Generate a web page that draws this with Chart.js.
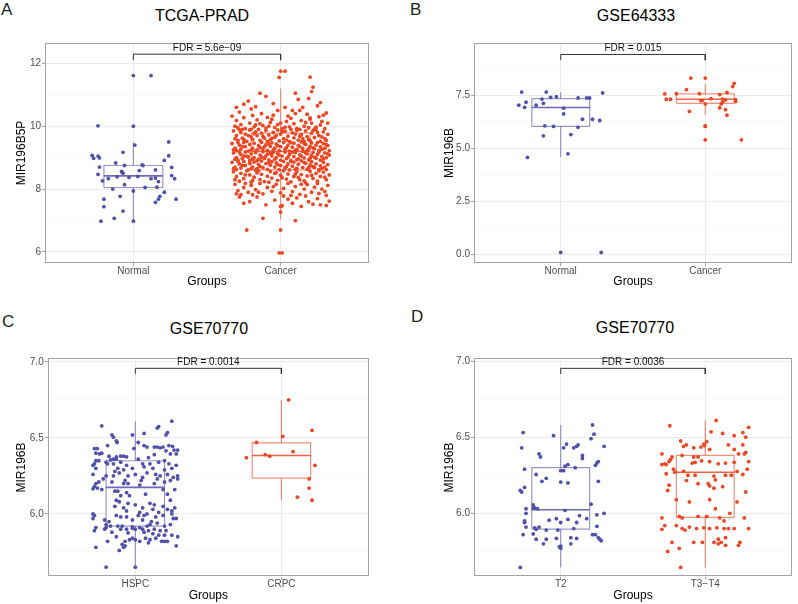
<!DOCTYPE html>
<html><head><meta charset="utf-8">
<script src="https://cdn.jsdelivr.net/npm/chart.js@4"></script>
<style>
body{margin:0;background:#fff;width:798px;height:604px;position:relative;overflow:hidden;font-family:'Liberation Sans',Arial,sans-serif}
canvas{position:absolute}
.ttl{position:absolute;font-size:16px;color:#000;transform:translate(-50%,-50%);white-space:nowrap}
.lt{position:absolute;font-size:17px;color:#222;transform:translateY(-50%)}
</style></head><body>
<div class="lt" style="left:1px;top:10px">A</div>
<div class="lt" style="left:410px;top:10px">B</div>
<div class="lt" style="left:2px;top:322px">C</div>
<div class="lt" style="left:411px;top:317px">D</div>
<div class="ttl" id="tA" style="left:202px;top:16px"></div>
<div class="ttl" id="tB" style="left:636px;top:16px"></div>
<div class="ttl" id="tC" style="left:209px;top:329px"></div>
<div class="ttl" id="tD" style="left:635px;top:328px"></div>
<canvas id="cA" width="399" height="302" style="left:0;top:0"></canvas>
<canvas id="cB" width="399" height="302" style="left:399px;top:0"></canvas>
<canvas id="cC" width="399" height="302" style="left:0;top:302px"></canvas>
<canvas id="cD" width="399" height="302" style="left:399px;top:302px"></canvas>
<script>
// ---------- DATA ----------
const titles = ['TCGA-PRAD','GSE64333','GSE70770','GSE70770'];
const yTitles = ['MIR196B5P','MIR196B','MIR196B','MIR196B'];
const groupsA = ['Normal','Cancer'];
const groupsB = ['Normal','Cancer'];
const groupsC = ['HSPC','CRPC'];
const groupsD = ['T2','T3\u2212T4'];
const fdrLabels = ['FDR = 5.6e\u221209','FDR = 0.015','FDR = 0.0014','FDR = 0.0036'];
const bracketA = [12.1, 12.29];
const bracketB = [9.14, 9.41];
const bracketC = [6.921, 6.958];
const bracketD = [6.915, 6.952];
const yRangeA = [5.65, 12.645];
const yRangeB = [-0.41, 9.95];
const yRangeC = [5.587, 7.024];
const yRangeD = [5.584, 7.018];
const yTicksA = [6,7,8,9,10,11,12];
const yLabelsA = ['6','','8','','10','','12'];
const yTicksB = [0,1.25,2.5,3.75,5,6.25,7.5,8.75];
const yLabelsB = ['0.0','','2.5','','5.0','','7.5',''];
const yTicksC = [5.75,6,6.25,6.5,6.75,7];
const yLabelsC = ['','6.0','','6.5','','7.0'];
const yTicksD = yTicksC;
const yLabelsD = yLabelsC;
// box stats: [lower whisker, Q1, median, Q3, upper whisker]
const statsA = [[7.0,8.05,8.42,8.75,9.49],[7.03,8.61,9.2,9.78,11.2]];
const statsB = [[4.58,6.02,6.91,7.33,7.62],[6.56,7.11,7.3,7.55,8.0]];
const statsC = [[5.65,5.92,6.175,6.35,6.61],[6.09,6.235,6.384,6.467,6.75]];
const statsD = [[5.645,5.897,6.024,6.30,6.58],[5.645,5.974,6.27,6.38,6.61]];
// jittered points: [jitter offset, value]
const ptsA_Normal = [[0,11.61],[0.12,11.61],[-0.24,10.01],[0,10.0],[0.01,9.4],[0.24,9.5],[-0.07,9.17],[-0.28,9.07],[-0.27,8.98],[-0.24,9.05],[-0.23,8.99],[0.24,9.06],[0.21,8.91],[-0.23,8.7],[-0.12,8.83],[-0.06,8.75],[0.06,8.77],[0.065,8.75],[0.15,8.61],[0.26,8.69],[0.04,8.59],[-0.08,8.56],[-0.07,8.5],[-0.075,8.53],[-0.24,8.47],[-0.11,8.39],[-0.03,8.37],[0.03,8.4],[-0.21,8.26],[-0.17,8.33],[0.12,8.33],[0.17,8.24],[0.26,8.43],[0.28,8.33],[-0.06,8.14],[0.15,8.35],[-0.14,8.0],[0,7.94],[0.08,8.05],[0.16,8.06],[0.21,7.9],[0.18,7.77],[0.17,7.68],[-0.2,7.68],[0.29,7.68],[-0.09,7.77],[0.15,7.58],[-0.2,7.44],[-0.07,7.3],[-0.22,6.98],[-0.13,7.07],[0,6.98]];
const ptsA_Cancer = [[0.0,11.75],[0.03,11.75],[-0.01,11.55],[0.2,11.56],[0.22,11.24],[0.21,11.1],[-0.1,10.95],[-0.14,11.05],[0.1,11.05],[-0.22,10.8],[-0.25,10.7],[0.12,10.85],[0.19,10.88],[0.03,10.6],[-0.05,10.72],[0.27,10.75],[-0.3,10.6],[-0.2,10.55],[-0.17,10.62],[0.08,10.5],[0.15,10.6],[0.25,10.65],[0.29,10.35],[0.31,10.42],[0.26,10.3],[-0.28,10.45],[-0.13,10.4],[-0.05,10.35],[0.1,10.4],[-0.09,10.28],[0.05,10.32],[0.2,10.26],[0.18,10.38],[-0.25,10.27],[-0.33,10.32],[-0.19,10.34],[0.13,10.5],[-0.02,10.5],
[-0.31,10.0],[-0.29,9.95],[-0.27,10.05],[-0.24,9.92],[-0.21,10.1],[-0.18,9.98],[-0.16,10.2],[-0.12,10.02],[-0.1,9.94],[-0.07,10.12],[-0.04,9.96],[-0.02,10.05],[0.01,9.92],[0.04,10.15],[0.06,9.98],[0.09,10.08],[0.11,9.93],[0.14,10.18],[0.16,10.0],[0.19,9.95],[0.21,10.1],[0.24,9.97],[0.27,10.04],[0.3,9.92],[0.32,10.1],[-0.3,10.18],[-0.2,9.9],[-0.14,10.08],[-0.06,10.22],[0.0,10.1],[0.07,10.25],[0.13,9.9],[0.2,10.22],[0.28,10.15],[-0.26,9.9],[-0.08,10.0],[0.03,9.97],[0.17,10.12],[0.23,9.91],[-0.17,10.04],
[-0.32,9.85],[-0.3,9.7],[-0.29,9.55],[-0.27,9.8],[-0.26,9.62],[-0.24,9.75],[-0.23,9.52],[-0.21,9.88],[-0.2,9.66],[-0.19,9.58],[-0.17,9.82],[-0.16,9.7],[-0.14,9.55],[-0.13,9.78],[-0.11,9.62],[-0.1,9.86],[-0.08,9.72],[-0.07,9.57],[-0.05,9.8],[-0.04,9.65],[-0.02,9.88],[-0.01,9.53],[0.0,9.75],[0.02,9.6],[0.03,9.84],[0.05,9.68],[0.06,9.51],[0.08,9.79],[0.09,9.63],[0.11,9.87],[0.12,9.56],[0.14,9.73],[0.15,9.6],[0.17,9.85],[0.18,9.67],[0.2,9.54],[0.21,9.78],[0.23,9.64],[0.24,9.89],[0.26,9.7],[0.27,9.52],[0.29,9.82],[0.3,9.6],[0.32,9.74],[-0.31,9.6],[-0.22,9.7],[-0.15,9.9],[-0.09,9.52],[-0.03,9.7],[0.01,9.83],[0.07,9.9],[0.13,9.68],[0.19,9.58],[0.25,9.8],[0.31,9.55],[-0.28,9.88],[-0.18,9.76],[-0.06,9.61],[0.04,9.56],[0.1,9.75],[0.16,9.52],[0.22,9.86],[0.28,9.66],[-0.12,9.68],[-0.25,9.58],
[-0.33,9.45],[-0.31,9.3],[-0.3,9.22],[-0.28,9.4],[-0.27,9.27],[-0.25,9.48],[-0.24,9.35],[-0.22,9.21],[-0.21,9.42],[-0.19,9.3],[-0.18,9.46],[-0.16,9.25],[-0.15,9.38],[-0.13,9.49],[-0.12,9.28],[-0.1,9.41],[-0.09,9.23],[-0.07,9.36],[-0.06,9.47],[-0.04,9.3],[-0.03,9.43],[-0.01,9.22],[0.0,9.35],[0.02,9.48],[0.03,9.27],[0.05,9.4],[0.06,9.21],[0.08,9.33],[0.09,9.46],[0.11,9.26],[0.12,9.39],[0.14,9.5],[0.15,9.29],[0.17,9.42],[0.18,9.23],[0.2,9.36],[0.21,9.47],[0.23,9.28],[0.24,9.4],[0.26,9.22],[0.27,9.34],[0.29,9.45],[0.3,9.3],[0.32,9.38],[-0.32,9.25],[-0.26,9.35],[-0.2,9.25],[-0.14,9.32],[-0.08,9.44],[-0.02,9.38],[0.04,9.32],[0.1,9.23],[0.16,9.45],[0.22,9.31],[0.28,9.26],[0.33,9.22],[-0.29,9.48],[-0.17,9.2],[-0.05,9.25],[0.07,9.48],[0.19,9.28],[0.25,9.48],[-0.11,9.35],[0.13,9.35],[0.31,9.42],
[-0.32,9.15],[-0.3,9.0],[-0.29,8.92],[-0.27,9.1],[-0.26,8.97],[-0.24,9.18],[-0.23,9.05],[-0.21,8.91],[-0.2,9.12],[-0.18,9.0],[-0.17,9.16],[-0.15,8.95],[-0.14,9.08],[-0.12,9.19],[-0.11,8.98],[-0.09,9.11],[-0.08,8.93],[-0.06,9.06],[-0.05,9.17],[-0.03,9.0],[-0.02,9.13],[0.0,8.92],[0.01,9.05],[0.03,9.18],[0.04,8.97],[0.06,9.1],[0.07,8.91],[0.09,9.03],[0.1,9.16],[0.12,8.96],[0.13,9.09],[0.15,9.2],[0.16,8.99],[0.18,9.12],[0.19,8.93],[0.21,9.06],[0.22,9.17],[0.24,8.98],[0.25,9.1],[0.27,8.92],[0.28,9.04],[0.3,9.15],[0.31,9.0],[0.33,9.08],[-0.31,8.95],[-0.25,9.05],[-0.19,8.95],[-0.13,9.02],[-0.07,9.14],[-0.01,9.08],[0.05,9.02],[0.11,8.93],[0.17,9.15],[0.23,9.01],[0.29,8.96],[-0.28,9.18],[-0.16,8.9],[-0.04,8.95],[0.08,9.18],[0.2,8.98],[0.26,9.18],[-0.1,9.05],[0.14,9.05],[0.32,9.12],[-0.22,9.02],
[-0.33,8.85],[-0.31,8.7],[-0.3,8.62],[-0.28,8.8],[-0.27,8.67],[-0.25,8.88],[-0.24,8.75],[-0.22,8.61],[-0.21,8.82],[-0.19,8.7],[-0.18,8.86],[-0.16,8.65],[-0.15,8.78],[-0.13,8.89],[-0.12,8.68],[-0.1,8.81],[-0.09,8.63],[-0.07,8.76],[-0.06,8.87],[-0.04,8.7],[-0.03,8.83],[-0.01,8.62],[0.0,8.75],[0.02,8.88],[0.03,8.67],[0.05,8.8],[0.06,8.61],[0.08,8.73],[0.09,8.86],[0.11,8.66],[0.12,8.79],[0.14,8.9],[0.15,8.69],[0.17,8.82],[0.18,8.63],[0.2,8.76],[0.21,8.87],[0.23,8.68],[0.24,8.8],[0.26,8.62],[0.27,8.74],[0.29,8.85],[0.3,8.7],[0.32,8.78],[-0.32,8.65],[-0.26,8.75],[-0.2,8.65],[-0.14,8.72],[-0.08,8.84],[-0.02,8.78],[0.04,8.72],[0.1,8.63],[0.16,8.85],[0.22,8.71],[0.28,8.66],[-0.29,8.88],[-0.17,8.6],[0.07,8.88],[0.19,8.68],[0.31,8.62],
[-0.32,8.55],[-0.3,8.4],[-0.28,8.25],[-0.27,8.5],[-0.25,8.33],[-0.23,8.58],[-0.21,8.45],[-0.2,8.22],[-0.18,8.38],[-0.16,8.52],[-0.14,8.3],[-0.13,8.47],[-0.11,8.24],[-0.09,8.41],[-0.07,8.56],[-0.06,8.35],[-0.04,8.5],[-0.02,8.28],[0.0,8.44],[0.02,8.58],[0.04,8.32],[0.05,8.48],[0.07,8.23],[0.09,8.4],[0.11,8.55],[0.13,8.3],[0.14,8.46],[0.16,8.26],[0.18,8.42],[0.2,8.57],[0.22,8.34],[0.24,8.5],[0.25,8.25],[0.27,8.4],[0.29,8.54],[0.31,8.3],[0.33,8.45],[-0.31,8.3],[-0.24,8.45],[-0.15,8.58],[-0.08,8.22],[0.01,8.36],[0.1,8.48],[0.17,8.2],[0.26,8.58],[0.3,8.38],[-0.19,8.28],[-0.03,8.52],[0.12,8.37],[0.21,8.44],
[-0.31,8.15],[-0.29,7.95],[-0.27,7.82],[-0.25,8.05],[-0.22,7.9],[-0.2,8.12],[-0.17,7.98],[-0.14,8.18],[-0.12,7.85],[-0.09,8.05],[-0.06,7.93],[-0.03,8.15],[0.0,7.88],[0.02,8.02],[0.05,8.18],[0.08,7.92],[0.1,8.08],[0.13,7.83],[0.16,8.0],[0.18,8.14],[0.21,7.9],[0.23,8.06],[0.26,7.86],[0.28,8.0],[0.3,7.92],[0.32,8.12],[-0.3,7.85],[-0.24,8.18],[-0.15,7.9],[-0.05,8.08],[0.07,7.8],[0.14,8.15],[0.25,8.18],[0.31,7.8],[-0.19,7.82],
[-0.28,7.75],[-0.21,7.6],[-0.16,7.75],[-0.1,7.5],[-0.04,7.65],[0.02,7.78],[0.08,7.55],[0.11,7.72],[0.14,7.45],[0.19,7.6],[0.22,7.52],[0.25,7.7],[0.27,7.5],[0.31,7.48],[0.33,7.62],[-0.25,7.55],[0.05,7.68],[0.17,7.78],[0.0,7.45],[0.01,7.47],[0.0,7.27],
[-0.12,7.07],[0.1,7.0],[-0.23,6.7],[0.0,6.7],[-0.01,5.97],[0.01,5.97]];
const ptsB_Normal = [[-0.27,7.64],[-0.1,7.64],[0.29,7.6],[-0.24,7.16],[-0.29,7.02],[-0.25,6.92],[-0.17,7.02],[-0.13,7.31],[-0.12,7.11],[-0.07,7.39],[-0.03,7.42],[0.12,7.36],[0.18,7.36],[0.2,7.36],[0.02,6.88],[0.02,6.61],[0.15,6.36],[0.22,6.36],[0.27,6.3],[-0.11,6.05],[-0.05,6.02],[0.12,5.98],[-0.12,5.58],[0.07,5.64],[-0.23,4.56],[0.05,4.73],[0,0.09],[0.28,0.09]];
const ptsB_Cancer = [[-0.1,8.3],[0,8.3],[0.2,8.05],[0.19,7.9],[-0.13,7.75],[-0.28,7.55],[-0.2,7.56],[-0.04,7.56],[0.15,7.62],[0.1,7.52],[-0.27,7.3],[-0.24,7.3],[0.04,7.33],[-0.03,7.23],[-0.02,7.25],[0.14,7.27],[0.12,7.31],[0.21,7.28],[0.21,7.19],[0,7.08],[0.11,7.08],[0.12,7.17],[0.1,6.9],[0.14,6.81],[-0.11,6.73],[0.15,6.55],[0,6.02],[0,6.05],[0,5.39],[0.25,5.39]];
const ptsC_HSPC = [[0.25,6.61],[-0.23,6.58],[0.16,6.575],[0.15,6.565],[0.22,6.535],[0.21,6.52],[-0.16,6.52],[-0.15,6.505],[-0.02,6.52],[0.06,6.53],[-0.13,6.48],[-0.125,6.47],[0.02,6.47],[-0.19,6.45],[0.06,6.45],[0.08,6.44],[-0.28,6.43],[-0.26,6.43],[-0.01,6.43],[0.13,6.44],[0.15,6.44],[0.17,6.435],[0.19,6.44],[0.23,6.45],[0.255,6.445],[0.29,6.42],[0.265,6.42],[0.21,6.415],[-0.27,6.4],[-0.245,6.395],[-0.23,6.4],[0.13,6.39],[0.24,6.395],[0.28,6.395],[-0.18,6.38],[-0.1,6.38],[-0.13,6.375],[-0.08,6.38],[-0.06,6.375],[-0.13,6.36],[-0.15,6.36],[-0.17,6.355],[0.02,6.36],[0.09,6.37],[-0.25,6.35],[-0.27,6.35],[0.2,6.35],
[-0.28,6.33],[-0.29,6.32],[-0.2,6.34],[-0.19,6.33],[-0.15,6.33],[-0.1,6.34],[-0.06,6.32],[0.05,6.33],[0.1,6.33],[0.16,6.34],[0.23,6.33],[0.28,6.32],[0.25,6.3],[-0.27,6.3],[-0.12,6.3],[-0.08,6.29],[-0.02,6.3],[0.06,6.31],[0.12,6.3],[0.2,6.29],[-0.14,6.28],[-0.11,6.27],[0.0,6.26],[0.08,6.27],[0.14,6.26],[0.22,6.26],[0.29,6.25],[-0.29,6.26],[-0.2,6.25],[-0.15,6.25],[-0.05,6.25],[0.05,6.24],[0.17,6.25],[0.26,6.24],[-0.22,6.23],[-0.16,6.21],[-0.07,6.22],[0.04,6.22],[0.15,6.23],[0.24,6.22],[0.29,6.23],[-0.25,6.21],[-0.27,6.2],[-0.08,6.2],[-0.05,6.2],[0.03,6.19],[0.13,6.2],[0.2,6.21],[-0.28,6.18],[-0.26,6.17],[-0.23,6.16],[-0.14,6.15],[-0.12,6.15],[-0.06,6.14],[0.19,6.16],[0.27,6.16],[-0.29,6.165],[0.22,6.13],
[-0.1,6.12],[-0.04,6.12],[0.07,6.13],[0.24,6.09],[-0.13,6.09],[-0.11,6.08],[-0.05,6.07],[0.0,6.06],[0.1,6.07],[0.13,6.06],[0.19,6.05],[0.27,6.04],[-0.14,6.05],[-0.08,6.04],[0.05,6.04],[0.12,6.03],[0.22,6.03],[0.25,6.02],[-0.06,6.02],[0.03,6.01],[0.08,6.0],[0.16,6.01],[0.25,6.0],[-0.29,6.0],[-0.28,5.99],[-0.13,5.99],[-0.1,5.98],[-0.06,5.98],[0.02,5.99],[0.06,5.99],[0.14,5.98],[0.19,5.99],[0.26,5.97],[0.28,5.97],[-0.29,5.97],[-0.21,5.96],[-0.18,5.95],[-0.02,5.96],[0.05,5.96],[0.11,5.95],[0.15,5.94],[0.1,5.93],[0.2,5.92],[0.24,5.93],[-0.2,5.93],[-0.17,5.92],[-0.12,5.92],[-0.09,5.92],[-0.02,5.915],[0.03,5.91],[0.08,5.92],[-0.27,5.91],[-0.28,5.89],[-0.2,5.91],[-0.21,5.9],[-0.1,5.9],[-0.06,5.9],[-0.02,5.905],[0.0,5.9],[0.05,5.9],[0.09,5.89],[0.13,5.9],[0.17,5.89],[0.21,5.89],
[-0.16,5.88],[-0.05,5.875],[0.06,5.88],[0.12,5.87],[0.16,5.86],[0.2,5.86],[0.25,5.86],[0.29,5.85],[-0.13,5.85],[-0.02,5.84],[0.0,5.83],[0.07,5.84],[0.1,5.83],[0.14,5.84],[0.18,5.82],[0.2,5.82],[0.22,5.82],[-0.07,5.82],[-0.04,5.83],[0.03,5.82],[0.09,5.81],[-0.19,5.82],[-0.09,5.8],[-0.07,5.79],[-0.08,5.78],[-0.27,5.78],[-0.11,5.76],[0.28,5.79],[-0.2,5.65],[0.0,5.65]];
const ptsC_CRPC = [[0.05,6.75],[0.21,6.55],[0.01,6.51],[-0.17,6.47],[0.08,6.41],[-0.11,6.39],[-0.08,6.38],[-0.24,6.37],[0.23,6.32],[0.19,6.23],[0.19,6.17],[0.11,6.11],[0.21,6.09]];
const ptsD_T2 = [[0.22,6.58],[-0.26,6.53],[-0.05,6.51],[0.23,6.52],[0.21,6.49],[0.3,6.44],[0.12,6.45],[0.11,6.44],[0.09,6.43],[0.04,6.455],[0.02,6.43],[-0.27,6.43],[-0.15,6.39],[-0.14,6.37],[0.15,6.38],[0.15,6.36],[0.26,6.34],[0.25,6.33],[0.24,6.315],[0.05,6.32],[0.03,6.31],[-0.25,6.29],[0,6.28],[0.02,6.28],[0.1,6.3],[-0.17,6.255],[-0.1,6.23],[-0.13,6.21],[0,6.205],[0.05,6.2],[0.26,6.21],[-0.25,6.17],[-0.28,6.15],[-0.27,6.14],[0.21,6.06],[-0.19,6.055],[-0.19,6.035],[-0.24,6.03],[-0.18,6.035],[-0.16,6.03],[0.03,6.02],[0.25,5.99],[0.3,6.0],[0.13,5.985],[-0.24,6.0],[-0.25,5.95],[-0.25,5.94],[-0.24,5.91],[-0.08,5.955],[-0.03,5.965],[0,5.94],[0.05,5.96],[0.11,5.94],[0.18,5.965],[-0.18,5.905],[-0.17,5.895],[-0.15,5.91],[-0.1,5.89],[-0.02,5.89],[0.09,5.9],[0.25,5.915],[-0.26,5.86],[-0.19,5.865],[-0.17,5.83],[-0.12,5.8],[-0.1,5.83],[-0.03,5.835],[0.07,5.84],[0.11,5.835],[0.07,5.8],[0,5.785],[0,5.77],[-0.01,5.78],[0.22,5.86],[0.24,5.86],[0.26,5.84],[0.27,5.83],[0.28,5.82],[-0.28,5.645]];
const ptsD_T34 = [[0.075,6.61],[-0.245,6.575],[0.04,6.535],[0.12,6.525],[0.3,6.565],[0.26,6.53],[0.28,6.5],[0.2,6.51],[-0.17,6.475],[-0.15,6.44],[-0.13,6.45],[-0.08,6.43],[-0.01,6.455],[-0.005,6.445],[0.01,6.47],[-0.03,6.435],[0.03,6.42],[0.16,6.45],[0.2,6.42],[0.26,6.45],[0.28,6.4],[0.27,6.39],[0.23,6.39],[-0.3,6.39],[-0.23,6.37],[-0.24,6.355],[-0.25,6.34],[-0.27,6.32],[-0.3,6.32],[-0.28,6.325],[-0.16,6.38],[-0.08,6.37],[-0.05,6.37],[-0.025,6.345],[-0.09,6.33],[-0.07,6.335],[0.03,6.34],[0.09,6.325],[0.14,6.33],[0.2,6.335],[0.3,6.34],[0.29,6.29],[0.22,6.275],[0.26,6.255],[-0.22,6.29],[-0.27,6.26],[-0.21,6.27],[-0.15,6.275],[-0.12,6.25],[-0.07,6.25],[0.06,6.245],[0.07,6.22],[0.14,6.25],[0.18,6.25],[-0.13,6.215],[-0.05,6.195],[0.02,6.195],[0.03,6.18],[0.06,6.165],[0.12,6.175],[-0.25,6.185],[-0.26,6.15],[0.28,6.14],[0.22,6.075],[-0.11,6.075],[-0.2,6.09],[0.03,6.09],[0.07,6.03],[-0.18,5.98],[-0.16,5.97],[-0.05,5.98],[0.01,5.98],[0.1,5.97],[0.17,6.0],[-0.3,5.97],[0.27,5.97],[0.13,5.95],[-0.2,5.92],[-0.16,5.9],[-0.11,5.91],[-0.06,5.9],[-0.01,5.905],[0.03,5.9],[0.08,5.905],[0.13,5.9],[0.16,5.9],[0.2,5.9],[-0.3,5.895],[-0.28,5.92],[0.3,5.9],[-0.14,5.89],[-0.23,5.81],[-0.08,5.81],[-0.02,5.81],[0.06,5.81],[0.09,5.83],[0.09,5.8],[0.11,5.81],[0.14,5.84],[0.14,5.79],[0.24,5.81],[0.23,5.79],[-0.26,5.75],[-0.18,5.77],[-0.17,5.645]];

// ---------- STYLE ----------
const FONT = "'Liberation Sans', Arial, sans-serif";
const COLS = [
  {pt:'#5151A9', box:'rgba(81,81,169,0.6)', med:'rgba(81,81,169,0.85)'},
  {pt:'#EC4623', box:'rgba(236,70,35,0.6)', med:'rgba(236,70,35,0.85)'}
];
const titleIds = ['tA','tB','tC','tD'];
titleIds.forEach((id,i)=>{ document.getElementById(id).textContent = titles[i]; });

const framePlugin = {
  id:'frame',
  afterDatasetsDraw(chart, args, opts){
    const {ctx, chartArea:a, scales} = chart;
    ctx.save();
    ctx.strokeStyle = '#A3A3A3'; ctx.lineWidth = 1;
    ctx.strokeRect(Math.round(a.left)+0.5, Math.round(a.top)+0.5, Math.round(a.right-a.left)-1, Math.round(a.bottom-a.top)-1);
    ctx.fillStyle = '#111';
    ctx.font = '10px ' + FONT;
    ctx.textAlign = 'center'; ctx.textBaseline = 'middle';
    ctx.fillText(opts.label, scales.x.getPixelForValue(1.5), scales.y.getPixelForValue(opts.top) - 6);
    ctx.restore();
  }
};

function makePanel(canvasId, p){
  const ds = [];
  p.groups.forEach((g, i) => {
    const gx = i + 1, c = COLS[i], s = p.stats[i];
    ds.push({data:p.points[i].map(q => ({x:gx + q[0], y:q[1]})), backgroundColor:c.pt, borderColor:c.pt, pointRadius:1.9, pointBorderWidth:0, order:0});
    ds.push({data:[{x:gx,y:s[0]},{x:gx,y:s[1]}], showLine:true, borderColor:c.box, borderWidth:1.2, pointRadius:0, order:4});
    ds.push({data:[{x:gx,y:s[3]},{x:gx,y:s[4]}], showLine:true, borderColor:c.box, borderWidth:1.2, pointRadius:0, order:4});
    ds.push({data:[{x:gx-0.2,y:s[1]},{x:gx+0.2,y:s[1]},{x:gx+0.2,y:s[3]},{x:gx-0.2,y:s[3]},{x:gx-0.2,y:s[1]}], showLine:true, fill:'shape', backgroundColor:'#ffffff', borderColor:c.box, borderWidth:1.2, pointRadius:0, order:3});
    ds.push({data:[{x:gx-0.2,y:s[2]},{x:gx+0.2,y:s[2]}], showLine:true, borderColor:c.med, borderWidth:1.6, pointRadius:0, order:2});
  });
  ds.push({data:[{x:1,y:p.bracket[0]},{x:1,y:p.bracket[1]},{x:2,y:p.bracket[1]},{x:2,y:p.bracket[0]}], showLine:true, borderColor:'#333', borderWidth:1, pointRadius:0, order:1});
  return new Chart(document.getElementById(canvasId), {
    type:'scatter',
    data:{datasets:ds},
    plugins:[framePlugin],
    options:{
      responsive:false, animation:false, events:[],
      layout:{padding:{left:p.pad[0], right:p.pad[1], top:p.pad[2], bottom:p.pad[3]}},
      plugins:{legend:{display:false}, tooltip:{enabled:false}, frame:{label:p.fdr, top:p.bracket[1]}},
      scales:{
        x:{type:'linear', min:0.4, max:2.6,
          afterBuildTicks: ax => { ax.ticks = [{value:1},{value:2}]; },
          afterFit: ax => { ax.height = p.xh; },
          ticks:{callback:(v,i)=>p.groups[i], color:'#4D4D4D', font:{size:10, family:FONT}, padding:-1, maxRotation:0, autoSkip:false},
          grid:{color:'#EBEBEB', lineWidth:1, tickLength:3, tickColor:'#A3A3A3'},
          border:{display:false},
          title:{display:true, text:'Groups', color:'#000', font:{size:12, family:FONT}, padding:0}
        },
        y:{type:'linear', min:p.yRange[0], max:p.yRange[1],
          afterBuildTicks: ax => { ax.ticks = p.yTicks.map(v => ({value:v})); },
          afterFit: ax => { ax.width = p.yw; },
          ticks:{callback:(v,i)=>p.yLabels[i], color:'#4D4D4D', font:{size:10, family:FONT}, padding:1, autoSkip:false},
          grid:{color: c => p.yLabels[c.index] ? '#EBEBEB' : '#F5F5F5', lineWidth: c => p.yLabels[c.index] ? 1 : 0.6, tickLength:3,
                tickColor: c => p.yLabels[c.index] ? '#A3A3A3' : 'rgba(0,0,0,0)'},
          border:{display:false},
          title:{display:true, text:p.yTitle, color:'#000', font:{size:12, family:FONT}, padding:0}
        }
      }
    }
  });
}

makePanel('cA', {groups:groupsA, points:[ptsA_Normal, ptsA_Cancer], stats:statsA, bracket:bracketA, fdr:fdrLabels[0], yTitle:yTitles[0], yRange:yRangeA, yTicks:yTicksA, yLabels:yLabelsA, pad:[14.3,30,43,13.1], yw:30.7, xh:25.9});
makePanel('cB', {groups:groupsB, points:[ptsB_Normal, ptsB_Cancer], stats:statsB, bracket:bracketB, fdr:fdrLabels[1], yTitle:yTitles[1], yRange:yRangeB, yTicks:yTicksB, yLabels:yLabelsB, pad:[43.8,6,43,13.1], yw:31.2, xh:25.9});
makePanel('cC', {groups:groupsC, points:[ptsC_HSPC, ptsC_CRPC], stats:statsC, bracket:bracketC, fdr:fdrLabels[2], yTitle:yTitles[2], yRange:yRangeC, yTicks:yTicksC, yLabels:yLabelsC, pad:[14.8,30,56.3,1.1], yw:32.9, xh:26.2});
makePanel('cD', {groups:groupsD, points:[ptsD_T2, ptsD_T34], stats:statsD, bracket:bracketD, fdr:fdrLabels[3], yTitle:yTitles[3], yRange:yRangeD, yTicks:yTicksD, yLabels:yLabelsD, pad:[43.8,6,56.3,1.1], yw:31.2, xh:26.2});
</script>
</body></html>
